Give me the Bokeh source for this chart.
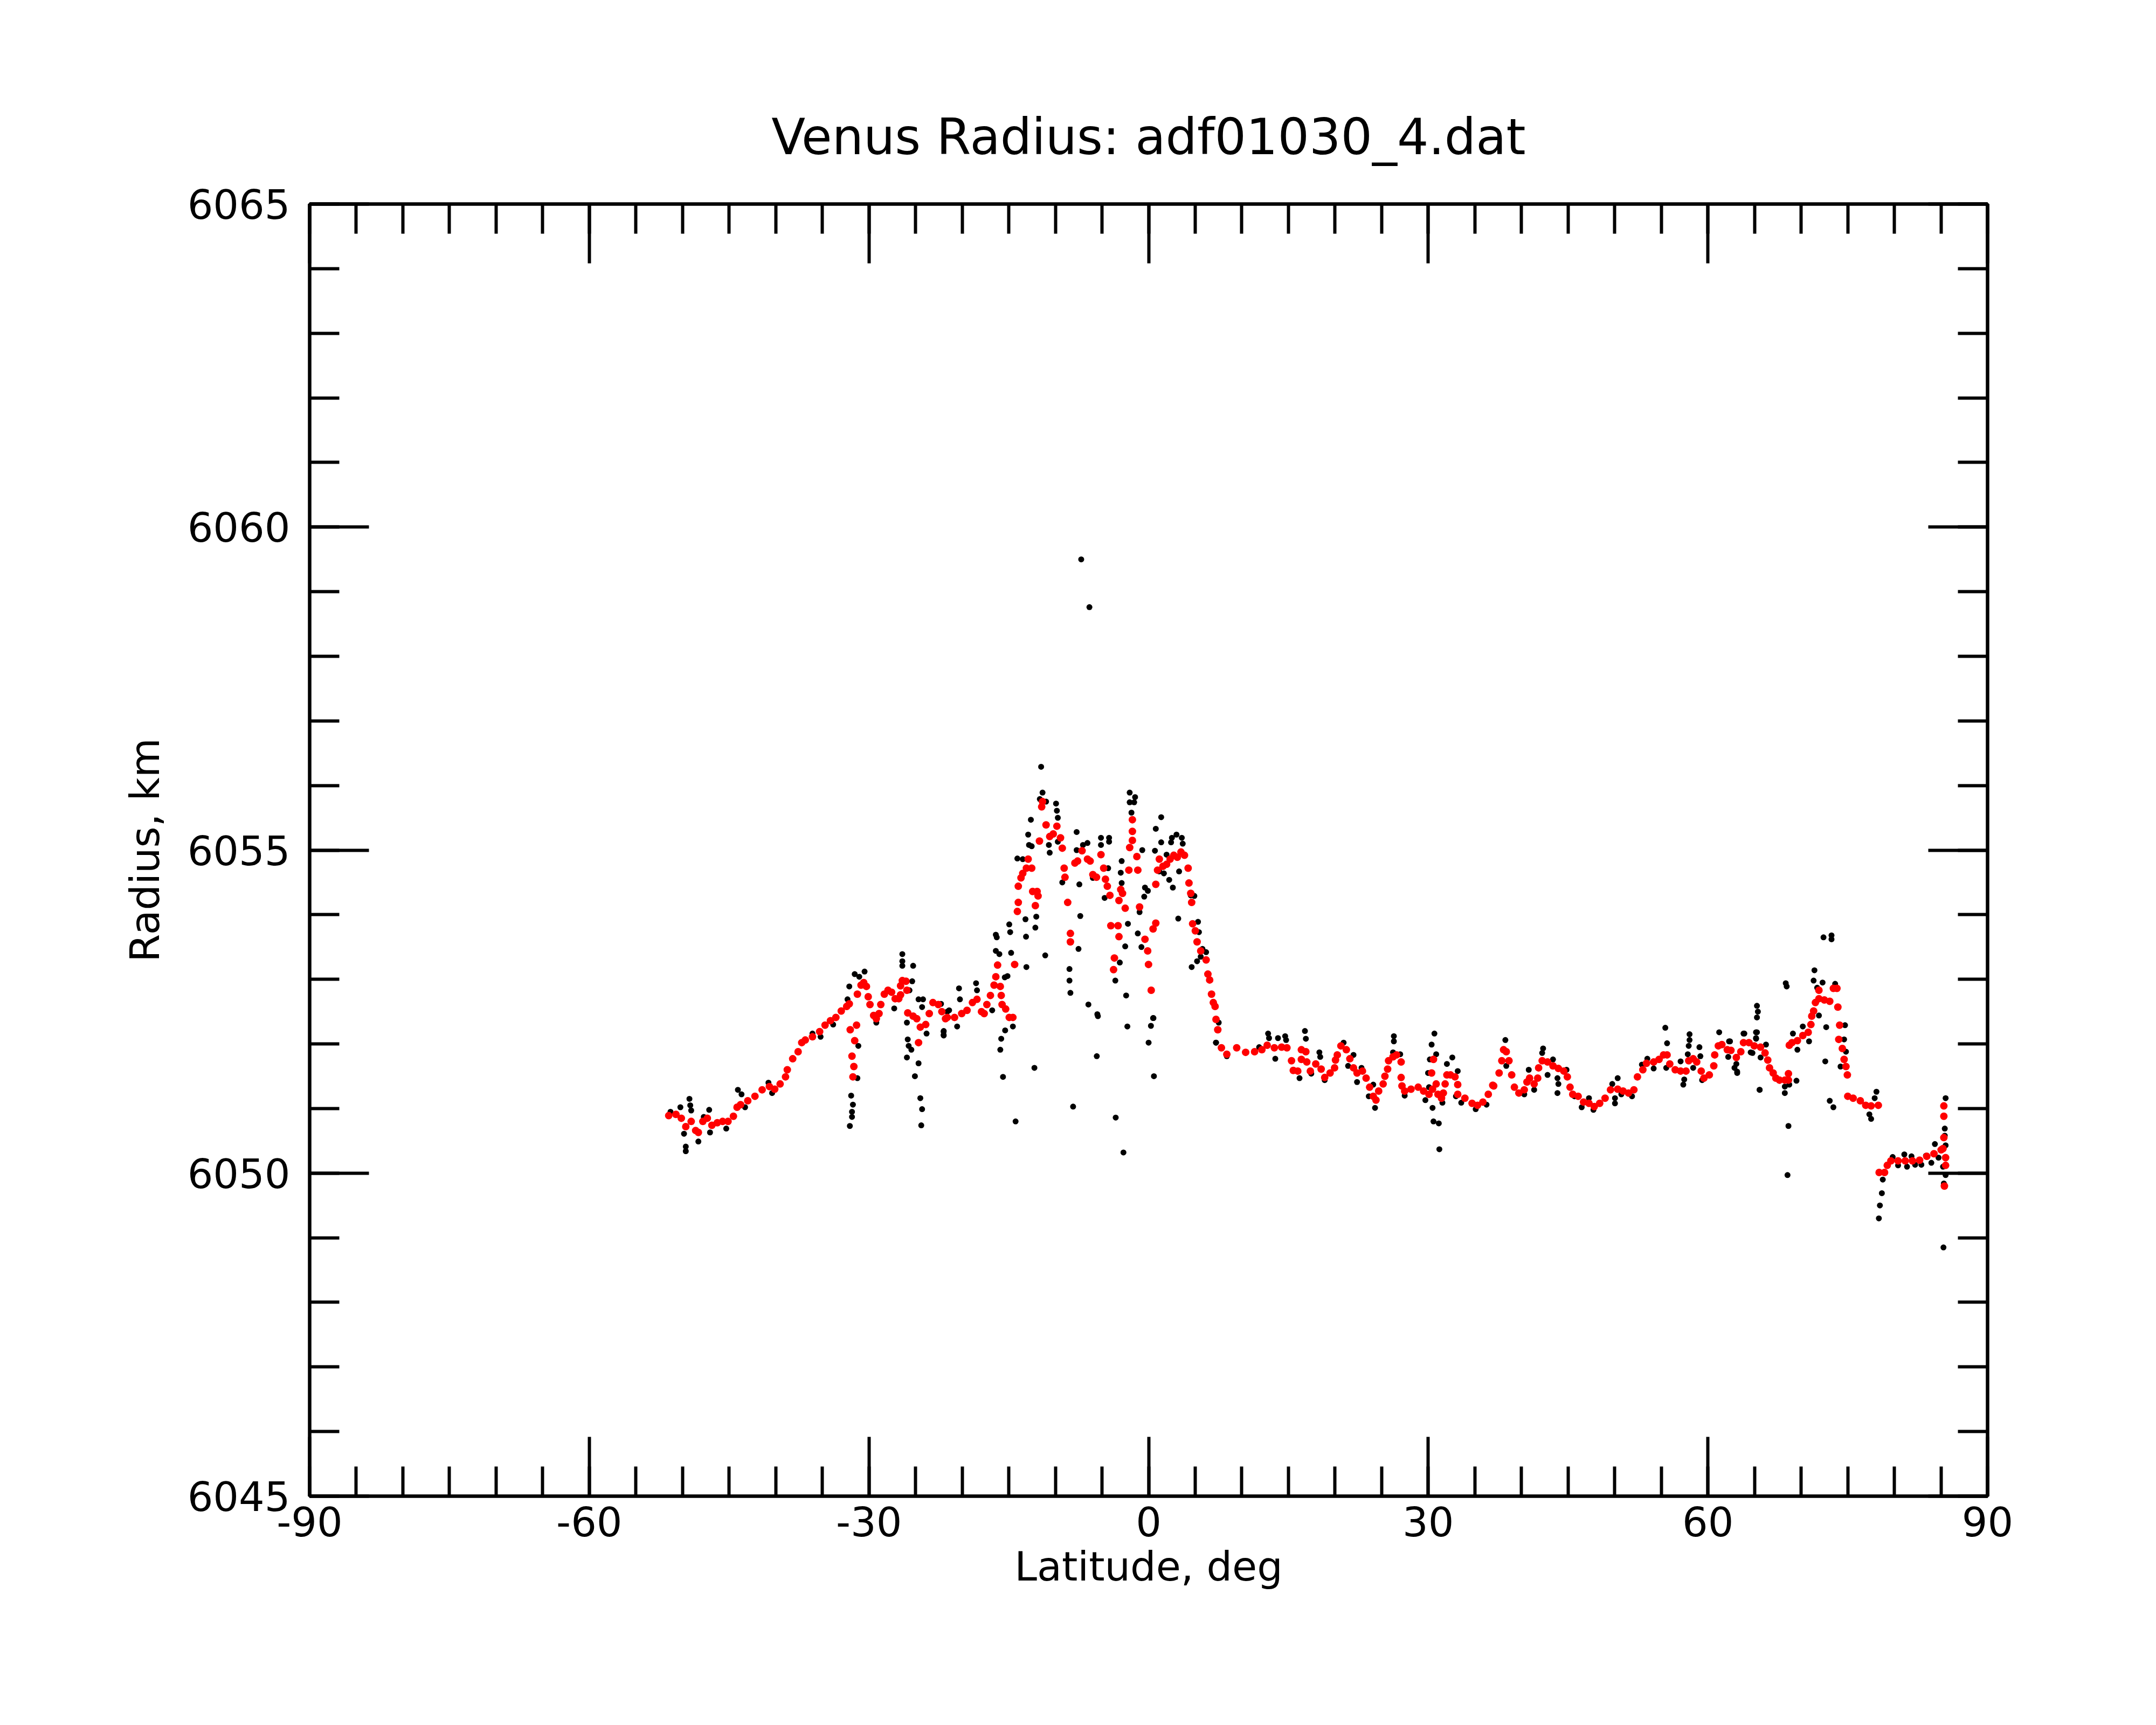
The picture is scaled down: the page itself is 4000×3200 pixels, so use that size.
from bokeh.plotting import figure
from bokeh.models import FixedTicker, LinearAxis, Range1d, CustomJSTickFormatter
from bokeh.embed import file_html
from bokeh.resources import INLINE

TITLE = "Venus Radius: adf01030_4.dat"
X_LABEL = "Latitude, deg"
Y_LABEL = "Radius, km"
X_MAJOR = [-90, -60, -30, 0, 30, 60, 90]
X_MINOR = list(range(-90, 91, 5))
Y_MAJOR = [6045, 6050, 6055, 6060, 6065]
Y_MINOR = list(range(6045, 6066))

# Smoothed radius profile (red)
red_lat = [
    -51.48, -50.71, -50.13, -49.65, -49.07, -48.59, -48.30, -47.82, -47.34, -46.85,
    -46.27, -45.70, -45.12, -44.54, -44.15, -43.77, -43.00, -42.23, -41.46, -40.68,
    -40.11, -39.53, -38.95, -38.76, -38.18, -37.60, -37.21, -36.83, -36.06, -35.29,
    -34.71, -34.13, -33.55, -32.97, -32.39, -32.11, -32.01, -31.33, -31.53, -31.82,
    -31.62, -31.72, -31.24, -30.85, -30.56, -30.27, -30.08, -29.89, -29.50, -29.21,
    -28.92, -28.73, -28.35, -27.96, -27.57, -27.19, -26.80, -26.61, -26.61, -26.42,
    -26.03, -25.93, -25.84, -25.26, -24.87, -24.68, -24.49, -23.91, -23.53, -23.14,
    -22.56, -22.18, -21.79, -21.60, -20.82, -20.05, -19.48, -18.90, -18.41, -17.93,
    -17.64, -17.35, -16.97, -16.58, -16.39, -16.20, -15.91, -15.81, -15.72, -15.33,
    -14.95, -14.56, -14.37, -14.08, -13.98, -13.98, -13.69, -13.50, -13.11, -12.92,
    -12.54, -12.44, -12.15, -11.96, -11.86, -11.71, -11.47, -11.38, -11.00, -10.61,
    -10.23, -9.84, -9.45, -9.26, -9.06, -8.97, -8.68, -8.39, -8.39, -7.91,
    -7.62, -7.14, -6.56, -6.27, -5.98, -5.59, -5.11, -4.82, -4.63, -4.43,
    -4.15, -4.05, -3.76, -3.67, -3.28, -3.18, -3.18, -2.99, -2.80, -2.51,
    -2.12, -2.03, -1.74, -1.74, -1.74, -1.26, -1.16, -0.97, -0.39, -0.10,
    -0.01, 0.28, 0.48, 0.77, 0.77, 0.96, 1.15, 1.54, 1.93, 2.31,
    2.70, 3.08, 3.47, 3.85, 4.24, 4.33, 4.52, 4.62, 4.72, 5.01,
    5.20, 5.59, 6.17, 6.36, 6.55, 6.75, 6.94, 7.13, 7.23, 7.42,
    7.81, 8.39, 9.45, 10.41, 11.37, 12.15, 12.72, 13.49, 14.27, 14.84,
    15.33, 15.52, 16.00, 16.39, 16.87, 16.39, 16.97, 17.35, 17.93, 18.51,
    18.89, 19.47, 19.95, 20.05, 20.24, 20.63, 21.21, 21.59, 21.98, 22.36,
    22.94, 23.33, 23.71, 24.10, 24.39, 24.68, 25.16, 25.35, 25.64, 25.74,
    26.22, 26.60, 27.09, 27.09, 27.18, 27.47, 28.15, 28.92, 29.50, 30.08,
    30.46, 30.36, 30.56, 30.85, 31.04, 31.42, 31.62, 31.81, 32.00, 32.39,
    32.87, 33.16, 33.16, 33.93, 34.70, 35.28, 35.86, 36.44, 36.92, 37.02,
    37.60, 37.89, 38.08, 38.37, 38.66, 38.95, 39.24, 39.72, 40.30, 40.59,
    40.87, 41.36, 41.74, 41.84, 42.22, 42.80, 43.38, 43.96, 44.54, 44.92,
    45.21, 45.50, 46.08, 46.66, 47.24, 47.81, 48.39, 48.97, 49.55, 50.32,
    50.90, 51.48, 52.06, 52.44, 53.02, 53.41, 54.18, 54.76, 55.24, 55.62,
    55.91, 56.49, 57.07, 57.65, 57.94, 58.42, 58.80, 59.28, 59.57, 60.15,
    60.63, 60.73, 61.12, 61.50, 62.08, 62.47, 63.05, 63.53, 63.82, 64.40,
    64.97, 65.65, 66.13, 66.42, 66.61, 67.00, 67.29, 67.67, 68.25, 68.64,
    68.64, 68.73, 69.02, 69.60, 70.18, 70.76, 71.05, 71.14, 71.34, 71.53,
    71.91, 72.49, 73.07, 71.91, 73.46, 73.84, 73.94, 74.13, 74.04, 74.42,
    74.61, 74.81, 74.96, 75.00, 75.58, 76.35, 76.93, 77.51, 78.28, 78.37,
    78.95, 79.24, 79.63, 80.40, 81.17, 81.94, 82.71, 83.48, 84.25, 85.02,
    85.22, 85.31, 85.31, 85.31, 85.50, 85.50, 85.37,
]
red_r = [
    6050.89, 6050.91, 6050.85, 6050.72, 6050.80, 6050.66, 6050.63, 6050.80, 6050.85, 6050.74,
    6050.78, 6050.80, 6050.80, 6050.88, 6051.02, 6051.06, 6051.12, 6051.19, 6051.29, 6051.34,
    6051.30, 6051.38, 6051.49, 6051.60, 6051.77, 6051.88, 6052.02, 6052.06, 6052.11, 6052.19,
    6052.29, 6052.36, 6052.41, 6052.51, 6052.58, 6052.62, 6052.22, 6052.29, 6052.05, 6051.81,
    6051.65, 6051.49, 6052.77, 6052.91, 6052.95, 6052.89, 6052.73, 6052.61, 6052.44, 6052.39,
    6052.47, 6052.61, 6052.77, 6052.83, 6052.80, 6052.70, 6052.70, 6052.76, 6052.90, 6052.98,
    6052.97, 6052.83, 6052.48, 6052.43, 6052.39, 6052.02, 6052.26, 6052.30, 6052.47, 6052.64,
    6052.61, 6052.50, 6052.39, 6052.41, 6052.41, 6052.47, 6052.52, 6052.64, 6052.69, 6052.50,
    6052.47, 6052.61, 6052.75, 6052.91, 6053.04, 6053.22, 6052.89, 6052.75, 6052.61, 6052.54,
    6052.41, 6052.41, 6053.23, 6054.05, 6054.19, 6054.44, 6054.57, 6054.64, 6054.72, 6054.86,
    6054.72, 6054.36, 6054.14, 6054.36, 6054.29, 6055.14, 6055.67, 6055.75, 6055.39, 6055.21,
    6055.25, 6055.37, 6055.19, 6055.03, 6054.72, 6054.58, 6054.19, 6053.71, 6053.58, 6054.80,
    6054.83, 6054.99, 6054.86, 6054.83, 6054.62, 6054.58, 6054.93, 6054.72, 6054.55, 6054.44,
    6054.30, 6053.83, 6053.15, 6053.33, 6053.83, 6054.22, 6053.66, 6054.39, 6054.33, 6054.10,
    6054.69, 6055.04, 6055.15, 6055.29, 6055.47, 6054.90, 6054.69, 6054.12, 6053.62, 6053.44,
    6053.23, 6052.83, 6053.78, 6053.87, 6054.47, 6054.69, 6054.86, 6054.75, 6054.78, 6054.86,
    6054.92, 6054.89, 6054.97, 6054.92, 6054.72, 6054.49, 6054.33, 6054.19, 6053.86, 6053.75,
    6053.58, 6053.44, 6053.30, 6053.08, 6052.99, 6052.77, 6052.64, 6052.58, 6052.38, 6052.22,
    6051.94, 6051.84, 6051.94, 6051.87, 6051.88, 6051.91, 6051.98, 6051.94, 6051.95, 6051.94,
    6051.74, 6051.59, 6051.58, 6051.91, 6051.88, 6051.76, 6051.72, 6051.58, 6051.69, 6051.61,
    6051.48, 6051.55, 6051.63, 6051.75, 6051.83, 6051.97, 6051.91, 6051.77, 6051.63, 6051.55,
    6051.58, 6051.47, 6051.33, 6051.19, 6051.13, 6051.27, 6051.38, 6051.50, 6051.61, 6051.74,
    6051.80, 6051.83, 6051.72, 6051.48, 6051.35, 6051.27, 6051.30, 6051.33, 6051.27, 6051.22,
    6051.30, 6051.55, 6051.76, 6051.38, 6051.22, 6051.16, 6051.24, 6051.38, 6051.52, 6051.52,
    6051.49, 6051.37, 6051.22, 6051.16, 6051.08, 6051.05, 6051.10, 6051.22, 6051.36, 6051.35,
    6051.55, 6051.74, 6051.91, 6051.88, 6051.74, 6051.52, 6051.33, 6051.24, 6051.29, 6051.41,
    6051.47, 6051.38, 6051.47, 6051.63, 6051.74, 6051.72, 6051.66, 6051.62, 6051.58, 6051.49,
    6051.33, 6051.22, 6051.19, 6051.10, 6051.08, 6051.03, 6051.08, 6051.16, 6051.29, 6051.30,
    6051.27, 6051.24, 6051.29, 6051.49, 6051.60, 6051.70, 6051.72, 6051.76, 6051.83, 6051.83,
    6051.69, 6051.60, 6051.58, 6051.58, 6051.74, 6051.77, 6051.72, 6051.58, 6051.47, 6051.52,
    6051.66, 6051.83, 6051.97, 6051.99, 6051.91, 6051.90, 6051.79, 6051.88, 6052.02, 6052.02,
    6051.97, 6051.95, 6051.86, 6051.75, 6051.63, 6051.55, 6051.47, 6051.44, 6051.44, 6051.44,
    6051.54, 6051.98, 6052.02, 6052.05, 6052.13, 6052.18, 6052.30, 6052.43, 6052.51, 6052.64,
    6052.70, 6052.68, 6052.66, 6052.83, 6052.86, 6052.86, 6052.57, 6052.29, 6052.07, 6051.93,
    6051.76, 6051.65, 6051.52, 6051.19, 6051.16, 6051.12, 6051.05, 6051.04, 6051.05, 6050.01,
    6050.01, 6050.12, 6050.19, 6050.19, 6050.19, 6050.19, 6050.20, 6050.26, 6050.30, 6050.36,
    6050.38, 6050.55, 6050.88, 6051.04, 6050.24, 6050.12, 6049.80,
]

# Individual radius measurements (black)
black_lat = [
    -51.29, -50.23, -49.26, -49.17, -49.07, -49.84, -49.65, -49.65, -48.30, -47.14,
    -47.05, -47.72, -45.31, -44.06, -43.67, -43.29, -40.78, -40.39, -36.06, -35.19,
    -33.84, -32.30, -32.11, -31.53, -31.04, -30.47, -31.14, -31.24, -31.91, -31.72,
    -31.82, -31.82, -32.05, -29.21, -27.29, -26.42, -26.42, -26.42, -25.26, -25.36,
    -25.65, -25.93, -25.84, -25.74, -25.45, -25.93, -24.68, -24.20, -24.30, -23.82,
    -24.68, -25.07, -24.49, -24.30, -24.39, -21.99, -21.99, -21.60,
    -22.27, -21.40, -20.34, -20.24, -18.51, -18.41, -16.78, -16.39, -16.29, -16.39,
    -16.01, -15.43, -15.14, -14.95, -14.85, -14.75, -13.11, -13.21, -13.15, -12.05,
    -12.15, -14.08, -13.50, -12.83, -12.54, -12.92, -12.63, -11.09, -11.53, -11.38,
    -11.67, -11.00, -9.93, -9.84, -9.74, -10.70, -10.61, -9.74, -9.26, -7.72,
    -7.43, -7.33, -7.52, -8.49, -8.49, -8.39, -7.72, -7.04, -6.56, -5.11,
    -4.24, -5.11, -4.24, -4.34, -4.72, -5.98, -2.03, -1.45, -2.03, -1.55,
    -1.84, -0.68, -2.89, -2.99, -2.89, -2.22, -2.51, -2.41, -6.46, -5.50,
    -3.09, -3.57, -1.16, -0.39, -0.08, -0.47, -0.97, -0.77, 0.48, 1.35,
    0.77, 1.35, 0.68, 2.50, 2.99, 3.56, 2.41, 3.66, 1.93, 2.21,
    2.60, 3.27, 1.64, 1.15, 3.18, 4.52, 4.91, 5.30, 5.40, 5.78,
    5.59, 5.20, 4.62, 6.17, -7.23, -6.35,
    -21.98, -21.98, -20.54, -15.81, -15.91, -15.62, -15.39, -14.56, -14.27, -12.25,
    -8.10, -5.56, -5.44, -3.53, -2.70, -2.28, 0.00, 0.25, 0.52, 0.57, 7.23,
    7.23, 7.52, 8.39, 11.86, 12.82, 12.92, 13.59, 13.88, 14.65, 14.75,
    16.19, 16.77, 16.87, 17.45, 18.32, 18.41, 18.89, 20.92, 21.40, 21.98,
    22.36, 22.84, 24.10, 23.62, 24.29, 26.31, 26.31, 26.22, 26.99, 27.47,
    29.69, 30.66, 30.36, 30.85, 30.17, 29.98, 30.08, 30.46, 30.56, 31.13,
    31.19, 31.52, 32.00, 32.58, 33.16, 32.97, 33.54, 35.09, 36.25,
    38.27, 38.37, 40.30, 40.78, 41.36, 42.32, 42.22, 42.80, 43.38, 43.86,
    43.96, 43.86, 44.83, 45.69, 46.46, 47.24, 47.72, 49.74, 50.32, 50.03,
    50.03, 50.71, 51.86, 52.92, 53.50, 54.18, 55.43, 55.62, 55.53, 57.07,
    57.46, 57.36, 58.03, 58.03, 57.94, 57.84, 59.09, 59.19, 58.42, 59.38,
    61.21, 62.27, 62.18, 62.85, 63.14, 63.82, 64.59, 65.26, 65.36, 65.26,
    65.16, 65.16, 65.55, 65.65, 66.23,
    62.37, 63.05, 63.14, 63.91, 64.78, 65.26, 65.17, 65.55, 68.25, 68.25,
    68.73, 69.50, 68.35, 68.45, 68.64, 68.54, 69.12, 69.60, 70.18, 70.85,
    71.43, 71.34, 72.30, 71.72, 71.91, 72.40, 73.26, 73.26, 72.69, 72.59,
    73.07, 73.46, 73.65, 74.71, 74.61, 74.81, 74.23, 77.32, 77.51, 78.08,
    77.89, 78.76, 78.66, 78.34, 78.45, 79.82, 80.40, 81.07, 81.36, 81.84,
    82.23, 82.90, 83.39, 83.97, 84.35, 84.74, 85.50, 85.41, 85.41, 85.50,
    85.22, 85.50, 85.31, 85.27,
]
black_r = [
    6050.95, 6051.02, 6051.15, 6051.05, 6050.97, 6050.61, 6050.41, 6050.34, 6050.49, 6050.98,
    6050.63, 6050.87, 6050.69, 6051.29, 6051.22, 6051.02, 6051.40, 6051.24, 6052.16, 6052.11,
    6052.30, 6052.69, 6052.89, 6053.08, 6053.04, 6053.12, 6051.97, 6051.47, 6051.20, 6051.06,
    6050.95, 6050.87, 6050.73, 6052.33, 6052.55, 6053.39, 6053.28, 6053.21, 6053.21, 6052.97,
    6052.83, 6052.33, 6052.07, 6051.97, 6051.91, 6051.79, 6052.69, 6052.69, 6052.57, 6052.16,
    6051.70, 6051.50, 6051.16, 6050.99, 6050.74, 6052.19, 6052.14, 6052.50,
    6052.62, 6052.52, 6052.86, 6052.69, 6052.94, 6052.83, 6052.52, 6053.69, 6053.65, 6053.44,
    6053.39, 6053.03, 6053.05, 6053.85, 6053.73, 6053.41, 6053.19, 6053.93, 6053.66, 6053.97,
    6053.80, 6054.87, 6054.86, 6055.08, 6055.06, 6055.24, 6055.47, 6053.37, 6056.29, 6055.89,
    6055.79, 6055.75, 6055.72, 6055.61, 6055.50, 6055.08, 6054.96, 6055.13, 6054.50, 6055.28,
    6054.47, 6053.98, 6053.47, 6053.16, 6052.98, 6052.79, 6055.00, 6055.08, 6055.11, 6055.19,
    6055.19, 6055.08, 6055.13, 6054.72, 6054.26, 6054.57, 6055.89, 6055.82, 6055.74, 6055.74,
    6055.58, 6055.00, 6054.83, 6054.65, 6054.49, 6053.86, 6053.51, 6052.75, 6052.61, 6052.46,
    6053.26, 6052.98, 6053.71, 6054.42, 6054.37, 6054.28, 6054.04, 6053.50, 6052.40, 6055.51,
    6055.33, 6055.12, 6054.99, 6055.19, 6055.24, 6055.19, 6055.12, 6055.10, 6054.93, 6054.54,
    6054.42, 6054.67, 6054.64, 6054.67, 6053.94, 6054.30, 6054.29, 6053.89, 6053.73, 6053.47,
    6053.35, 6053.28, 6053.19, 6053.42, 6059.50, 6058.76,
    6052.20, 6052.13, 6052.27, 6052.08, 6051.91, 6051.49, 6052.21, 6052.27, 6050.80, 6051.63,
    6051.03, 6051.81, 6052.43, 6050.86, 6050.32, 6052.27, 6052.02, 6052.28, 6052.40, 6051.50, 6052.02,
    6052.02, 6052.33, 6051.81, 6051.95, 6052.16, 6052.09, 6051.77, 6052.09, 6052.12, 6052.06,
    6051.47, 6052.20, 6052.08, 6051.54, 6051.87, 6051.80, 6051.44, 6052.02, 6051.66, 6051.83,
    6051.41, 6051.63, 6051.37, 6051.19, 6051.01, 6052.12, 6052.04, 6051.87, 6051.84, 6051.20,
    6051.13, 6052.16, 6051.99, 6051.84, 6051.76, 6051.55, 6051.33, 6051.01, 6050.80, 6050.77,
    6050.37, 6051.09, 6051.69, 6051.79, 6051.58, 6051.19, 6051.09, 6050.99, 6051.06,
    6052.06, 6051.66, 6051.22, 6051.60, 6051.29, 6051.93, 6051.86, 6051.52, 6051.76, 6051.47,
    6051.38, 6051.24, 6051.60, 6051.19, 6051.02, 6051.16, 6050.98, 6051.38, 6051.47, 6051.08,
    6051.16, 6051.22, 6051.19, 6051.68, 6051.77, 6051.62, 6052.25, 6052.01, 6051.63, 6051.73,
    6051.45, 6051.37, 6052.15, 6052.06, 6051.97, 6051.84, 6051.95, 6051.81, 6051.63, 6051.44,
    6052.18, 6052.04, 6051.80, 6051.63, 6051.55, 6052.16, 6051.87, 6052.59, 6052.50, 6052.41,
    6052.18, 6052.09, 6051.29, 6051.79, 6051.99,
    6052.04, 6051.69, 6051.57, 6052.16, 6051.86, 6052.18, 6052.08, 6051.29, 6051.34, 6051.24,
    6051.37, 6051.43, 6052.94, 6052.89, 6050.73, 6049.97, 6052.16, 6051.91, 6052.27, 6052.04,
    6053.14, 6052.98, 6052.95, 6052.87, 6052.44, 6053.65, 6053.68, 6053.62, 6052.26, 6051.73,
    6051.12, 6051.02, 6052.93, 6052.29, 6052.07, 6051.88, 6051.65, 6050.91, 6050.84, 6051.26,
    6051.16, 6049.90, 6049.69, 6049.30, 6049.50, 6050.25, 6050.12, 6050.29, 6050.10, 6050.26,
    6050.13, 6050.13, 6050.27, 6050.16, 6050.45, 6050.24, 6051.16, 6050.69, 6050.58, 6050.43,
    6050.10, 6049.97, 6049.84, 6048.85,
]

FONT = "DejaVu Sans"

p = figure(
    width=3984, height=3184,
    x_range=Range1d(-90, 90), y_range=Range1d(6045, 6065),
    output_backend="svg", toolbar_location=None,
    min_border_left=574, min_border_right=297,
    min_border_top=378, min_border_bottom=409,
    title=TITLE,
)
p.grid.visible = False
p.background_fill_color = "white"
p.border_fill_color = "white"
p.outline_line_color = "black"
p.outline_line_width = 6

p.title.text_font = FONT
p.title.text_font_size = "92px"
p.title.text_font_style = "normal"
p.title.align = "center"
p.title.text_color = "black"
p.title.standoff = 142

top_axis = LinearAxis()
right_axis = LinearAxis()
p.add_layout(top_axis, "above")
p.add_layout(right_axis, "right")

int_fmt = CustomJSTickFormatter(code="return tick.toFixed(0);")


def style(ax, major, minor, show_labels):
    ax.ticker = FixedTicker(ticks=major, minor_ticks=minor)
    ax.formatter = int_fmt
    ax.axis_line_width = 6
    ax.axis_line_color = "black"
    ax.major_tick_in = 110
    ax.major_tick_out = 0
    ax.minor_tick_in = 55
    ax.minor_tick_out = 0
    ax.major_tick_line_width = 6
    ax.minor_tick_line_width = 6
    ax.major_tick_line_color = "black"
    ax.minor_tick_line_color = "black"
    ax.major_label_text_font = FONT
    ax.major_label_text_font_size = "75px"
    ax.major_label_text_color = "black" if show_labels else None
    ax.axis_label_text_font = FONT
    ax.axis_label_text_font_size = "75px"
    ax.axis_label_text_font_style = "normal"
    ax.axis_label_text_color = "black"


for ax in p.xaxis:
    style(ax, X_MAJOR, X_MINOR, ax is not top_axis)
for ax in p.yaxis:
    style(ax, Y_MAJOR, Y_MINOR, ax is not right_axis)

p.below[0].axis_label = X_LABEL
p.below[0].major_label_standoff = 19
p.below[0].axis_label_standoff = 9
p.left[0].axis_label = Y_LABEL
p.left[0].major_label_standoff = 36
p.left[0].axis_label_standoff = 32
top_axis.major_label_standoff = 0
right_axis.major_label_standoff = 0

p.scatter(black_lat, black_r, size=11, fill_color="black", line_color=None)
p.scatter(red_lat, red_r, size=14, fill_color="red", line_color=None)

open("out.html", "w").write(file_html(p, INLINE))
